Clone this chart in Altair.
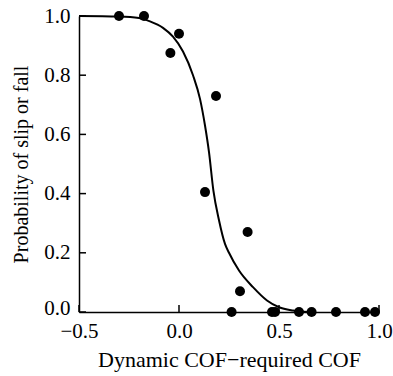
import altair as alt
import pandas as pd

# Observed data points
pt_x = [-0.3, -0.175, -0.043, 0.0, 0.13, 0.185, 0.263, 0.305, 0.343,
        0.465, 0.48, 0.6, 0.663, 0.785, 0.93, 0.98]
pt_y = [1.0, 1.0, 0.875, 0.94, 0.405, 0.73, 0.0, 0.07, 0.27,
        0.0, 0.0, 0.0, 0.0, 0.0, 0.0, 0.0]

# Fitted curve
curve_x = [-0.5, -0.3, -0.2, -0.145, -0.08, -0.03, 0.02, 0.07, 0.105, 0.13,
           0.15, 0.172, 0.2, 0.23, 0.25, 0.3, 0.37, 0.44, 0.5, 0.57, 0.65]
curve_y = [1.0, 0.998, 0.993, 0.982, 0.96, 0.93, 0.88, 0.80, 0.72, 0.63,
           0.54, 0.41, 0.31, 0.23, 0.2, 0.14, 0.084, 0.039, 0.016, 0.005, 0.0]

x_ticks = [-0.5, 0.0, 0.5, 1.0]
y_ticks = [0.0, 0.2, 0.4, 0.6, 0.8, 1.0]

W, H = 300, 296
FONT = "Liberation Serif"
TICK = 7

pts = pd.DataFrame({"x": pt_x, "y": pt_y})
crv = pd.DataFrame({"x": curve_x, "y": curve_y})
xt = pd.DataFrame({"v": x_ticks})
yt = pd.DataFrame({"v": y_ticks})

xscale = alt.Scale(domain=[-0.5, 1.0], nice=False, zero=False)
yscale = alt.Scale(domain=[0.0, 1.0], nice=False)

xaxis = alt.Axis(values=x_ticks, format=".1f", title="Dynamic COF\u2212required COF",
                 labelPadding=8, titlePadding=8, labelFlush=False, titleFontSize=22)
yaxis = alt.Axis(values=y_ticks, format=".1f", title="Probability of slip or fall",
                 labelPadding=9, titlePadding=12, labelFlush=False, titleFontSize=20,
                 labelOffset={"condition": {"test": "datum.value == 0", "value": -4},
                              "value": 0})

line = alt.Chart(crv).mark_line(color="black", strokeWidth=2, interpolate="monotone").encode(
    x=alt.X("x:Q", scale=xscale, axis=xaxis),
    y=alt.Y("y:Q", scale=yscale, axis=yaxis),
)

points = alt.Chart(pts).mark_circle(size=100, color="black", opacity=1).encode(
    x=alt.X("x:Q", scale=xscale),
    y=alt.Y("y:Q", scale=yscale),
)

xtick_rules = alt.Chart(xt).mark_rule(color="black", strokeWidth=1.5).encode(
    x=alt.X("v:Q", scale=xscale),
    y=alt.value(H),
    y2=alt.value(H - TICK),
)

ytick_rules = alt.Chart(yt).mark_rule(color="black", strokeWidth=1.5).encode(
    y=alt.Y("v:Q", scale=yscale),
    x=alt.value(0),
    x2=alt.value(TICK),
)

chart = alt.layer(line, xtick_rules, ytick_rules, points).properties(
    width=W, height=H,
    autosize=alt.AutoSizeParams(type="none"),
    padding={"left": 79, "top": 16, "right": 14, "bottom": 64},
).configure_view(stroke=None).configure_axis(
    grid=False, ticks=False, tickSize=0,
    domainColor="black", domainWidth=1.5,
    labelFont=FONT, labelFontSize=21, labelColor="black",
    titleFont=FONT, titleFontWeight="normal", titleColor="black",
)

chart.save("out.html", embed_options={"renderer": "svg", "actions": False})
